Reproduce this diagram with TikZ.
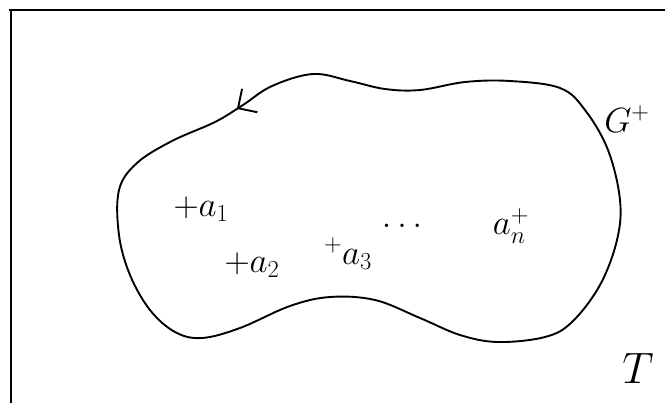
\RequirePackage{fix-cm}
\documentclass[tikz,border=0pt]{standalone}
\usepackage{amsmath, amssymb}
\usepackage{tikz}
\usetikzlibrary{arrows.meta, decorations.markings}
\tikzset{
    frame/.style={line width=1.8pt},
    contour/.style={line width=1.9pt, line join=round,
        postaction={decorate, decoration={markings,
            mark=at position 42pt with {\arrow[line width=1.9pt]{Straight Barb[length=14pt,width=28pt]}}}}},
    pt/.style={inner sep=0pt, font=\fontsize{35}{40}\selectfont},
}

\begin{document}
\begin{tikzpicture}[x=1pt, y=-1pt, >=Stealth]
    \useasboundingbox (0,0) rectangle (665,405);
    % frame T
    \draw[frame] (665,10) -- (9,10) -- (11,10) -- (11,403);
    % boundary curve of G+
    \draw[contour] plot[smooth cycle, tension=0.6] coordinates {
        (313,74) (272,86) (243,105) (215,122) (172,141) (137,163) (119,190)
        (119,235) (130,275) (150,310) (175,332) (202,338) (240,328) (290,306)
        (330,297) (375,300) (420,318) (460,335) (498,342) (545,337) (572,322)
        (600,285) (617,240) (620,200) (608,150) (585,110) (560,88) (510,81)
        (465,82) (420,90) (385,89) (350,81)};
    % points and labels
    \node[pt] (aone) at (201,209) {$+a_1$};
    \node[pt] (atwo) at (252,265) {$+a_2$};
    \node[pt] (athree) at (348,254) {${}^{+}a_3$};
    \node[pt] (dots) at (405,226) {$\dots$};
    \node[pt] (an) at (511,226) {$a_n^{+}$};
    \node[pt] (G) at (627,119) {$G^{+}$};
    \node[inner sep=0pt, font=\fontsize{44}{48}\selectfont] (T) at (638,368) {$T$};
\end{tikzpicture}
\end{document}
